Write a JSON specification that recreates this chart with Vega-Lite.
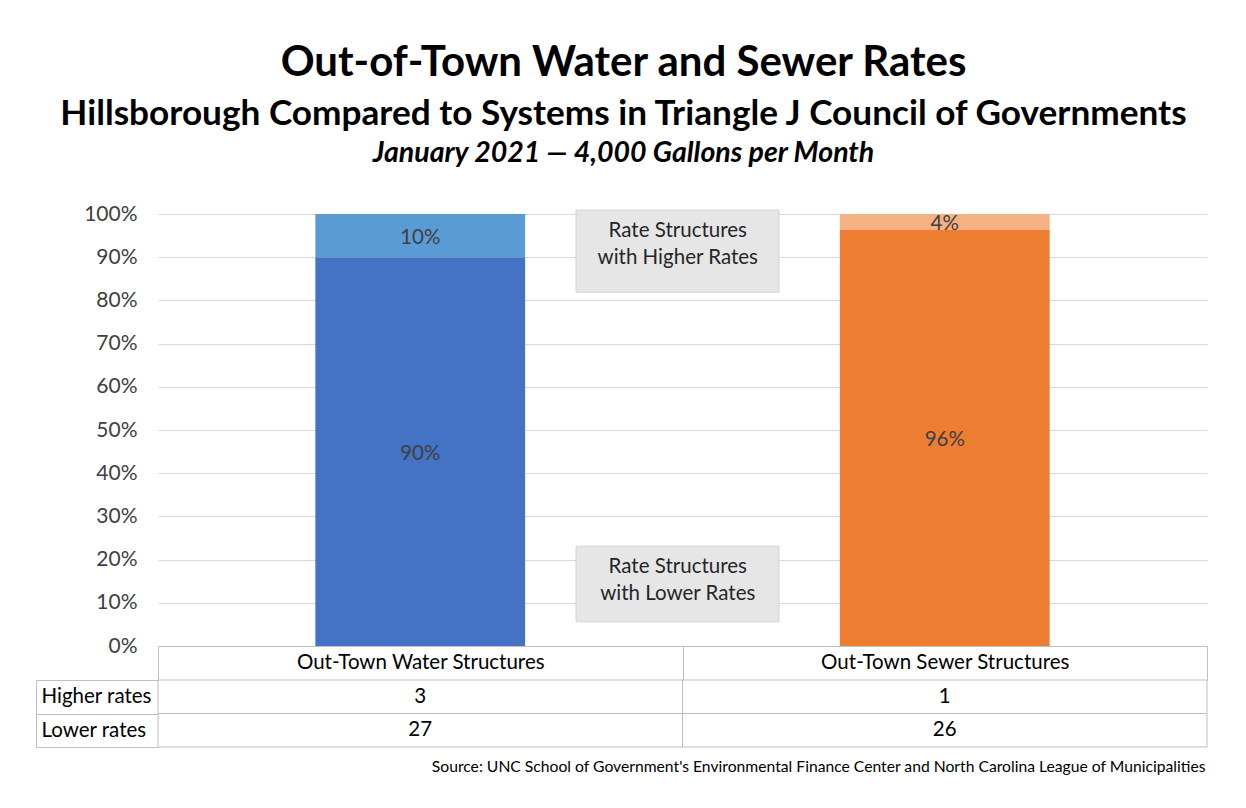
{
  "$schema": "https://vega.github.io/schema/vega-lite/v6.json",
  "width": 1049,
  "height": 432,
  "autosize": {"type": "none"},
  "padding": {"left": 158, "top": 214, "right": 39, "bottom": 162},
  "background": "white",
  "config": {"font": "Lato", "view": {"stroke": null}},
  "title": {
    "text": "Out-of-Town Water and Sewer Rates",
    "subtitle": "Hillsborough Compared to Systems in Triangle J Council of Governments",
    "anchor": "middle",
    "frame": "group",
    "dx": -59,
    "offset": 5,
    "font": "Lato",
    "fontSize": 42,
    "fontWeight": "bold",
    "color": "#000000",
    "subtitleFont": "Lato",
    "subtitleFontSize": 35.2,
    "subtitleFontWeight": "bold",
    "subtitleColor": "#000000",
    "subtitlePadding": 12
  },
  "datasets": {
    "rates": [
      {"category": "Out-Town Water Structures", "rate": "Lower rates", "segment": "Water, lower rates", "count": 27, "pct": 0.9},
      {"category": "Out-Town Water Structures", "rate": "Higher rates", "segment": "Water, higher rates", "count": 3, "pct": 0.1},
      {"category": "Out-Town Sewer Structures", "rate": "Lower rates", "segment": "Sewer, lower rates", "count": 26, "pct": 0.963},
      {"category": "Out-Town Sewer Structures", "rate": "Higher rates", "segment": "Sewer, higher rates", "count": 1, "pct": 0.037}
    ],
    "notes": [
      {"note": "Rate Structures\nwith Higher Rates", "lo": 0.819, "hi": 1.009, "ytext": 0.96},
      {"note": "Rate Structures\nwith Lower Rates", "lo": 0.056, "hi": 0.231, "ytext": 0.183}
    ]
  },
  "layer": [
    {
      "data": {"name": "rates"},
      "encoding": {
        "x": {
          "field": "category",
          "type": "nominal",
          "sort": ["Out-Town Water Structures", "Out-Town Sewer Structures"],
          "scale": {"paddingInner": 0, "paddingOuter": 0},
          "axis": {
            "orient": "bottom",
            "title": null,
            "domain": true,
            "domainColor": "#bfbfbf",
            "ticks": true,
            "tickBand": "extent",
            "tickSize": 34,
            "tickColor": "#bfbfbf",
            "labelPadding": -18,
            "labelBaseline": "middle",
            "labelFontSize": 20.5,
            "labelColor": "#000000",
            "labelAngle": 0,
            "labelLimit": 0,
            "grid": false
          }
        },
        "y": {
          "field": "pct",
          "type": "quantitative",
          "stack": "zero",
          "scale": {"domain": [0, 1], "nice": false},
          "axis": {
            "title": null,
            "values": [0, 0.1, 0.2, 0.3, 0.4, 0.5, 0.6, 0.7, 0.8, 0.9, 1],
            "format": ".0%",
            "domain": false,
            "ticks": false,
            "labelPadding": 21,
            "labelFontSize": 21,
            "labelColor": "#404040",
            "gridColor": "#d9d9d9",
            "gridWidth": 1
          }
        },
        "order": {"field": "rate", "sort": "descending"}
      },
      "layer": [
        {
          "mark": {"type": "bar", "width": {"band": 0.4}},
          "encoding": {
            "color": {
              "field": "segment",
              "type": "nominal",
              "scale": {
                "domain": ["Water, lower rates", "Water, higher rates", "Sewer, lower rates", "Sewer, higher rates"],
                "range": ["#4472c4", "#5b9bd5", "#ed7d31", "#f4b183"]
              },
              "legend": null
            }
          }
        },
        {
          "mark": {"type": "text", "fontSize": 20.5, "color": "#404040", "dy": 2},
          "encoding": {
            "y": {"field": "pct", "type": "quantitative", "stack": "zero", "bandPosition": 0.5},
            "detail": {"field": "segment"},
            "text": {"field": "pct", "type": "quantitative", "format": ".0%"}
          }
        }
      ]
    },
    {
      "data": {"name": "rates"},
      "encoding": {
        "x": {
          "field": "category",
          "type": "nominal",
          "sort": ["Out-Town Water Structures", "Out-Town Sewer Structures"],
          "scale": {"paddingInner": 0, "paddingOuter": 0},
          "axis": {
            "orient": "bottom",
            "title": "Source: UNC School of Government's Environmental Finance Center and North Carolina League of Municipalities",
            "labels": false,
            "ticks": false,
            "domain": false,
            "grid": false,
            "titleAnchor": "end",
            "titleFontSize": 15.7,
            "titleFontWeight": "normal",
            "titleColor": "#000000",
            "titlePadding": 113,
            "titleX": 1047
          }
        },
        "y": {
          "field": "rate",
          "type": "nominal",
          "sort": ["Higher rates", "Lower rates"],
          "scale": {"range": [466, 533], "paddingInner": 0, "paddingOuter": 0},
          "axis": {
            "orient": "left",
            "title": null,
            "offset": 122,
            "domain": true,
            "domainColor": "#bfbfbf",
            "ticks": true,
            "tickBand": "extent",
            "tickSize": -122,
            "tickColor": "#bfbfbf",
            "labelAlign": "left",
            "labelBaseline": "middle",
            "labelPadding": 117,
            "labelFontSize": 20.5,
            "labelColor": "#000000",
            "labelLimit": 0,
            "grid": false
          }
        }
      },
      "layer": [
        {"mark": {"type": "rect", "fill": "transparent", "stroke": "#bfbfbf", "strokeWidth": 1}},
        {
          "mark": {"type": "text", "fontSize": 20.5, "color": "#000000"},
          "encoding": {"text": {"field": "count", "type": "quantitative"}}
        }
      ]
    },
    {
      "data": {"name": "notes"},
      "layer": [
        {
          "mark": {"type": "rect", "fill": "#e6e6e6", "stroke": "#d4d4d4", "strokeWidth": 1},
          "encoding": {
            "x": {
              "datum": 0.797,
              "type": "quantitative",
              "scale": {"domain": [0, 2], "nice": false, "zero": false},
              "axis": {
                "orient": "top",
                "title": "January 2021 — 4,000 Gallons per Month",
                "labels": false,
                "ticks": false,
                "domain": false,
                "grid": false,
                "titleFontStyle": "italic",
                "titleFontWeight": "bold",
                "titleFontSize": 28.5,
                "titleColor": "#000000",
                "titlePadding": 47,
                "titleX": 465
              }
            },
            "x2": {"datum": 1.184},
            "y": {"field": "lo", "type": "quantitative", "scale": {"domain": [0, 1], "nice": false}, "axis": null},
            "y2": {"field": "hi"}
          }
        },
        {
          "mark": {"type": "text", "fontSize": 20.5, "color": "#262626", "lineBreak": "\n", "lineHeight": 27},
          "encoding": {
            "x": {"datum": 0.991, "type": "quantitative"},
            "y": {"field": "ytext", "type": "quantitative"},
            "text": {"field": "note", "type": "nominal"}
          }
        }
      ]
    }
  ],
  "resolve": {"scale": {"x": "independent", "y": "independent"}}
}
